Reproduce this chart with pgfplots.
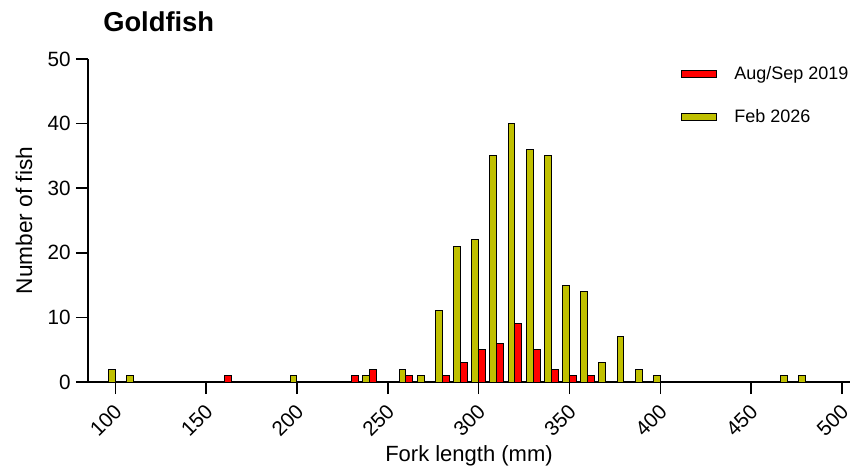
\documentclass[border=0pt]{standalone}
\usepackage{fontspec}
\setmainfont{Liberation Sans}
\usepackage{pgfplots}
\pgfplotsset{compat=1.18}
\definecolor{fishRed}{RGB}{255,0,0}
\definecolor{fishGold}{RGB}{192,192,0}

\begin{document}
\begin{tikzpicture}
\begin{axis}[
  scale only axis,
  width=571.5pt, height=242.25pt,
  xmin=85, xmax=504.4, ymin=0, ymax=50,
  axis x line=bottom, axis y line=left,
  axis line style={-, line width=1.1pt},
  tick style={line width=1.1pt, black},
  tick align=outside, major tick length=9pt,
  xtick={100,150,...,500}, ytick={0,10,...,50},
  /pgf/number format/assume math mode=true,
  tick label style={font=\fontsize{15.5}{17}\selectfont},
  xticklabel style={rotate=45, anchor=east, xshift=-2.5pt, yshift=-9pt},
  yticklabel style={xshift=-0.5pt},
  xlabel={Fork length (mm)}, ylabel={Number of fish},
  every axis x label/.style={at={(rel axis cs:0.5,0)}, yshift=-55.5pt, anchor=center,
    font=\fontsize{16.5}{18}\selectfont},
  every axis y label/.style={at={(rel axis cs:0,0.5)}, xshift=-48pt, anchor=center, rotate=90,
    font=\fontsize{17}{19}\selectfont},
  ybar, bar width=3.8,
  legend style={at={(rel axis cs:0.7782,0.985)}, anchor=north west, draw=none, fill=none,
    font=\fontsize{13.5}{15}\selectfont, row sep=17pt, inner sep=0pt},
  legend cell align=left,
  legend image code/.code={\draw[#1, line width=0.75pt] (0pt,-2.6pt) rectangle (26pt,2.6pt);},
  clip=false,
]
\addplot[fill=fishRed, draw=black, line width=0.75pt, bar shift=1.9] coordinates {
  (160,1) (230,1) (240,2) (260,1) (280,1) (290,3) (300,5) (310,6) (320,9)
  (330,5) (340,2) (350,1) (360,1)};
\addlegendentry{\hspace{11pt}Aug/Sep 2019}
\addplot[fill=fishGold, draw=black, line width=0.75pt, bar shift=-1.9] coordinates {
  (100,2) (110,1) (200,1) (240,1) (260,2) (270,1) (280,11) (290,21) (300,22)
  (310,35) (320,40) (330,36) (340,35) (350,15) (360,14) (370,3) (380,7)
  (390,2) (400,1) (470,1) (480,1)};
\addlegendentry{\hspace{11pt}Feb 2026}
\coordinate (o) at (rel axis cs:0,0);
\node[anchor=base west, inner sep=0pt, font=\fontsize{20.5}{22}\selectfont\bfseries]
  at ([shift={(11.25pt,21pt)}]rel axis cs:0,1) {Goldfish};
\end{axis}
\pgfresetboundingbox
\path (o) ++(-66pt,-67.5pt) rectangle ++(644.25pt,354pt);
\end{tikzpicture}
\end{document}
